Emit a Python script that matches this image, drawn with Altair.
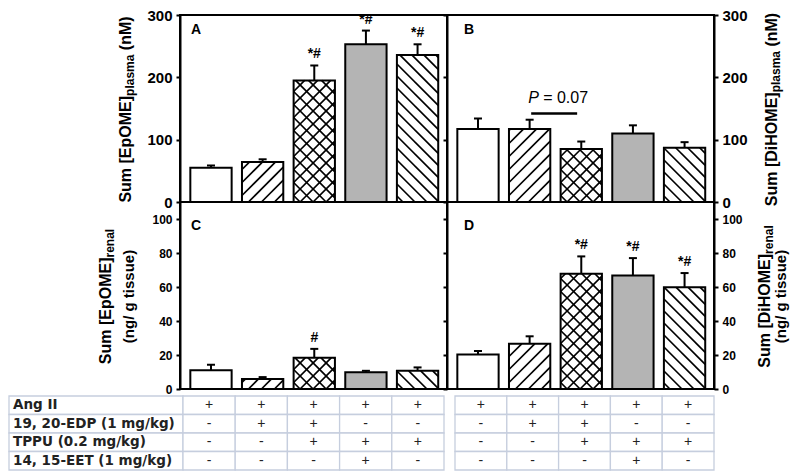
import altair as alt
import pandas as pd

# ------------------------------------------------------------------ data
groups = ["Ang II", "Ang II + EDP", "Ang II + EDP + TPPU", "Ang II + TPPU + EET", "Ang II + TPPU"]

epome_plasma = [55, 64, 195, 253, 236]
epome_plasma_sem = [3.5, 4.5, 24, 22, 17]
dihome_plasma = [117, 117, 85, 110, 87]
dihome_plasma_sem = [17, 15, 12, 13, 9]
epome_renal = [11.1, 5.9, 18.4, 9.8, 10.7]
epome_renal_sem = [3.2, 1.1, 5.2, 0.9, 2.0]
dihome_renal = [20.3, 26.6, 67.8, 66.8, 59.8]
dihome_renal_sem = [2.0, 4.4, 10.2, 10.2, 8.4]

marks_A = ["", "", "*#", "*#", "*#"]
marks_B = ["", "", "", "", ""]
marks_C = ["", "", "#", "", ""]
marks_D = ["", "", "*#", "*#", "*#"]

p_groups = [2, 3]       # groups compared in panel B
p_level = [142]         # level of the comparison bar (nM)
p_label = ["P", "= 0.07"]

table_rows = ["Ang II", "19, 20-EDP (1 mg/kg)", "TPPU (0.2 mg/kg)", "14, 15-EET (1 mg/kg)"]
ang2 = ["+", "+", "+", "+", "+"]
edp = ["-", "+", "+", "-", "-"]
tppu = ["-", "-", "+", "+", "+"]
eet = ["-", "-", "-", "+", "-"]

# ------------------------------------------------------------------ style / layout
FONT = "Liberation Sans"
PW, PH = 267, 187
LEFT_W = 171
XDOM = [0.4, 5.57]
HALF = 0.4
GRAY = "#b4b4b4"
GRAY_GROUP = 4
HATCH = [[], [("fwd", 13)], [("fwd", 13), ("back", 13)], [], [("back", 12)]]
GRID = "#c6cede"
ROW_H = 18.5
TABLE_GAP = 7
NOFRAME = alt.ViewBackground(stroke="transparent", strokeWidth=0)

ARIAL_BOLD = {" ": 278, "[": 333, "]": 333, "(": 333, ")": 333, "/": 278,
              "S": 667, "u": 611, "m": 889, "E": 667, "p": 611, "O": 778, "M": 833,
              "D": 722, "i": 278, "H": 722, "l": 278, "a": 556, "s": 556, "r": 389,
              "e": 556, "n": 611, "g": 611, "t": 333}


def text_width(s, size):
    return sum(ARIAL_BOLD.get(ch, 556) for ch in s) * size / 1000.0


def hatch_df(values, ymax):
    kx = PW / (XDOM[1] - XDOM[0])
    ky = PH / ymax
    rows = []
    for idx, v in enumerate(values, start=1):
        w = 2 * HALF * kx
        h = v * ky
        for kind, s in HATCH[idx - 1]:
            if kind == "fwd":
                k = int(-h // s)
                while k * s < w:
                    c = k * s + s / 2
                    u0 = max(0.0, c)
                    u1 = min(w, h + c)
                    if u1 - u0 > 0.5:
                        rows.append((idx - HALF + u0 / kx, (u0 - c) / ky,
                                     idx - HALF + u1 / kx, (u1 - c) / ky))
                    k += 1
            else:
                k = 0
                while k * s < w + h:
                    c = k * s + s / 2
                    u0 = max(0.0, c - h)
                    u1 = min(w, c)
                    if u1 - u0 > 0.5:
                        rows.append((idx - HALF + u0 / kx, (c - u0) / ky,
                                     idx - HALF + u1 / kx, (c - u1) / ky))
                    k += 1
    return pd.DataFrame(rows, columns=["x", "y", "x2", "y2"])


def text_layer(t, x, y, size, weight="bold", angle=0, align="left", baseline="alphabetic", style="normal"):
    return alt.Chart(pd.DataFrame({"t": [t]})).mark_text(
        angle=angle, align=align, baseline=baseline, fontSize=size, fontWeight=weight,
        fontStyle=style, font=FONT, color="black"
    ).encode(text="t:N", x=alt.value(x), y=alt.value(y))


def title_layers(lines):
    layers = []
    for x_base, pieces in lines:
        total = sum(text_width(t, s) + g for t, s, sh, g in pieces)
        y = PH / 2 + total / 2 + 1
        for t, s, sh, g in pieces:
            layers.append(text_layer(t, x_base + sh, y, s, angle=270))
            y -= text_width(t, s) + g
    return layers


def axis(orient, values, size, labels=True):
    return alt.Axis(orient=orient, values=values, labels=labels, labelFontSize=size,
                    labelFontWeight="bold", labelFont=FONT, labelColor="black",
                    labelPadding=4, tickSize=4, tickWidth=2, tickColor="black",
                    domain=True, domainColor="black", domainWidth=2, grid=False, title=None)


def p_annotation(xsc, ysc):
    pdf = pd.DataFrame({"g1": [p_groups[0]], "g2": [p_groups[1]], "lev": p_level,
                        "p": [p_label[0]], "rest": [p_label[1]]})
    b = alt.Chart(pdf).transform_calculate(
        xa="datum.g1 + 0.03", xb="datum.g2 - 0.08", xm="(datum.g1 + datum.g2) / 2 - 0.025")
    line = b.mark_rule(color="black", strokeWidth=2.5).encode(
        x=alt.X("xa:Q", scale=xsc, axis=None), x2=alt.X2("xb:Q"),
        y=alt.Y("lev:Q", scale=ysc, axis=None))
    t1 = b.mark_text(align="left", baseline="alphabetic", dx=-26, dy=-10, fontSize=16,
                     fontStyle="italic", font=FONT, color="black").encode(
        x=alt.X("xm:Q", scale=xsc, axis=None), y=alt.Y("lev:Q", scale=ysc, axis=None), text="p:N")
    t2 = b.mark_text(align="left", baseline="alphabetic", dx=-11, dy=-10, fontSize=16,
                     font=FONT, color="black").encode(
        x=alt.X("xm:Q", scale=xsc, axis=None), y=alt.Y("lev:Q", scale=ysc, axis=None), text="rest:N")
    return [line, t1, t2]


def panel(vals, sems, marks, ymax, ticks, lsize, side, letter, letter_y, titles, extra=None):
    ysc = alt.Scale(domain=[0, ymax], nice=False, zero=True)
    xsc = alt.Scale(domain=XDOM, nice=False, zero=False)
    df = pd.DataFrame({"i": list(range(1, 6)), "group": groups, "v": vals, "e": sems, "a": marks})
    base = alt.Chart(df).transform_calculate(
        xl=f"datum.i - {HALF}", xr=f"datum.i + {HALF}", top="datum.v + datum.e")

    def X(f):
        return alt.X(f, scale=xsc, axis=None)

    fill = base.mark_rect(strokeWidth=0).encode(
        x=X("xl:Q"), x2="xr:Q",
        y=alt.Y("v:Q", scale=ysc, axis=axis(side, ticks, lsize)), y2=alt.datum(0),
        fill=alt.condition(f"datum.i == {GRAY_GROUP}", alt.value(GRAY), alt.value("white")))
    hatch = alt.Chart(hatch_df(vals, ymax)).mark_rule(color="black", strokeWidth=1.7).encode(
        x=X("x:Q"), y=alt.Y("y:Q", scale=ysc, axis=None), x2="x2:Q", y2="y2:Q")
    second = axis("left", ticks, lsize, labels=False) if side == "right" else None
    outline = base.mark_rect(filled=False, stroke="black", strokeWidth=2).encode(
        x=X("xl:Q"), x2="xr:Q", y=alt.Y("v:Q", scale=ysc, axis=second), y2=alt.datum(0))
    err = base.mark_rule(color="black", strokeWidth=2).encode(
        x=X("i:Q"), y=alt.Y("v:Q", scale=ysc, axis=None), y2="top:Q")
    cap = base.mark_tick(orient="horizontal", size=8, thickness=2, color="black", opacity=1).encode(
        x=X("i:Q"), y=alt.Y("top:Q", scale=ysc, axis=None))
    ann = base.mark_text(baseline="bottom", dy=-4, fontSize=14, fontWeight="bold",
                         font=FONT, color="black").encode(
        x=X("i:Q"), y=alt.Y("top:Q", scale=ysc, axis=None), text="a:N")
    lx = 11 if side == "left" else 17
    let = text_layer(letter, lx, letter_y, 14)
    layers = [fill, hatch, outline, err, cap, ann, let]
    if extra is not None:
        layers += extra(xsc, ysc)
    layers += title_layers(titles)
    return alt.layer(*layers).resolve_axis(y="independent").properties(
        width=PW, height=PH, view=alt.ViewBackground(stroke="black", strokeWidth=2))


tA = [(-49, [("Sum [EpOME]", 16, 0, 0), ("plasma", 12, 3, 4.4), ("(nM)", 16, 0, 0)])]
tB = [(PW + 63, [("Sum [DiHOME]", 16, 0, 0), ("plasma", 12, 3, 4.4), ("(nM)", 16, 0, 0)])]
tC = [(-69, [("Sum [EpOME]", 16, 0, 0), ("renal", 12, 3, 0)]),
      (-46, [("(ng/ g tissue)", 15, 0, 0)])]
tD = [(PW + 56, [("Sum [DiHOME]", 16, 0, 0), ("renal", 12, 3, 0)]),
      (PW + 72, [("(ng/ g tissue)", 15, 0, 0)])]

pA = panel(epome_plasma, epome_plasma_sem, marks_A, 300, [0, 100, 200, 300], 15, "left", "A", 19, tA)
pB = panel(dihome_plasma, dihome_plasma_sem, marks_B, 300, [0, 100, 200, 300], 15, "right", "B", 19, tB,
           extra=p_annotation)
pC = panel(epome_renal, epome_renal_sem, marks_C, 110, [0, 20, 40, 60, 80, 100], 12, "left", "C", 28, tC)
pD = panel(dihome_renal, dihome_renal_sem, marks_D, 110, [0, 20, 40, 60, 80, 100], 12, "right", "D", 28, tD)

# ------------------------------------------------------------------ table
signs = dict(zip(table_rows, [ang2, edp, tppu, eet]))
tdf = pd.DataFrame([{"row": r, "c": c + 1, "s": signs[r][c]} for r in table_rows for c in range(5)])
TH = ROW_H * len(table_rows)
ysc_t = alt.Scale(range=[TABLE_GAP, TABLE_GAP + TH], paddingInner=0, paddingOuter=0)


def sign_table(x0, x1):
    b = alt.Chart(tdf).encode(
        x=alt.X("c:O", axis=None, scale=alt.Scale(range=[x0, x1], paddingInner=0, paddingOuter=0)),
        y=alt.Y("row:N", sort=table_rows, axis=None, scale=ysc_t))
    return alt.layer(
        b.mark_rect(fill="white", stroke=GRID, strokeWidth=1.3),
        b.mark_text(fontSize=14, font=FONT, color="#222").encode(text="s:N"),
    ).properties(width=PW, height=TABLE_GAP + TH, view=NOFRAME)


ldf = pd.DataFrame({"row": table_rows, "k": ["label"] * len(table_rows)})
lb = alt.Chart(ldf).encode(y=alt.Y("row:N", sort=table_rows, axis=None, scale=ysc_t))
labels = alt.layer(
    lb.mark_rect(fill="white", stroke=GRID, strokeWidth=1.3).encode(
        x=alt.X("k:N", axis=None, scale=alt.Scale(range=[0, LEFT_W + 3], paddingInner=0, paddingOuter=0))),
    lb.mark_text(align="left", fontSize=13.5, fontWeight="bold", font="DejaVu Sans", color="#222").encode(
        x=alt.value(4), text="row:N"),
).properties(width=LEFT_W, height=TABLE_GAP + TH, view=NOFRAME)


def spacer(w, h):
    return alt.Chart(pd.DataFrame({"s": [0]})).mark_point(opacity=0).encode(
        x=alt.X("s:Q", axis=None), y=alt.Y("s:Q", axis=None)).properties(width=w, height=h, view=NOFRAME)


chart = alt.concat(
    spacer(LEFT_W, PH), pA, pB,
    spacer(LEFT_W, PH), pC, pD,
    labels, sign_table(3, 264), sign_table(8, 267),
    columns=3, spacing=0, bounds="flush",
).properties(
    padding={"left": 0, "top": -1, "right": 0, "bottom": 0}
).configure_view(stroke="transparent").configure(background="white")

chart.save("out.html", embed_options={"renderer": "svg", "actions": False})
